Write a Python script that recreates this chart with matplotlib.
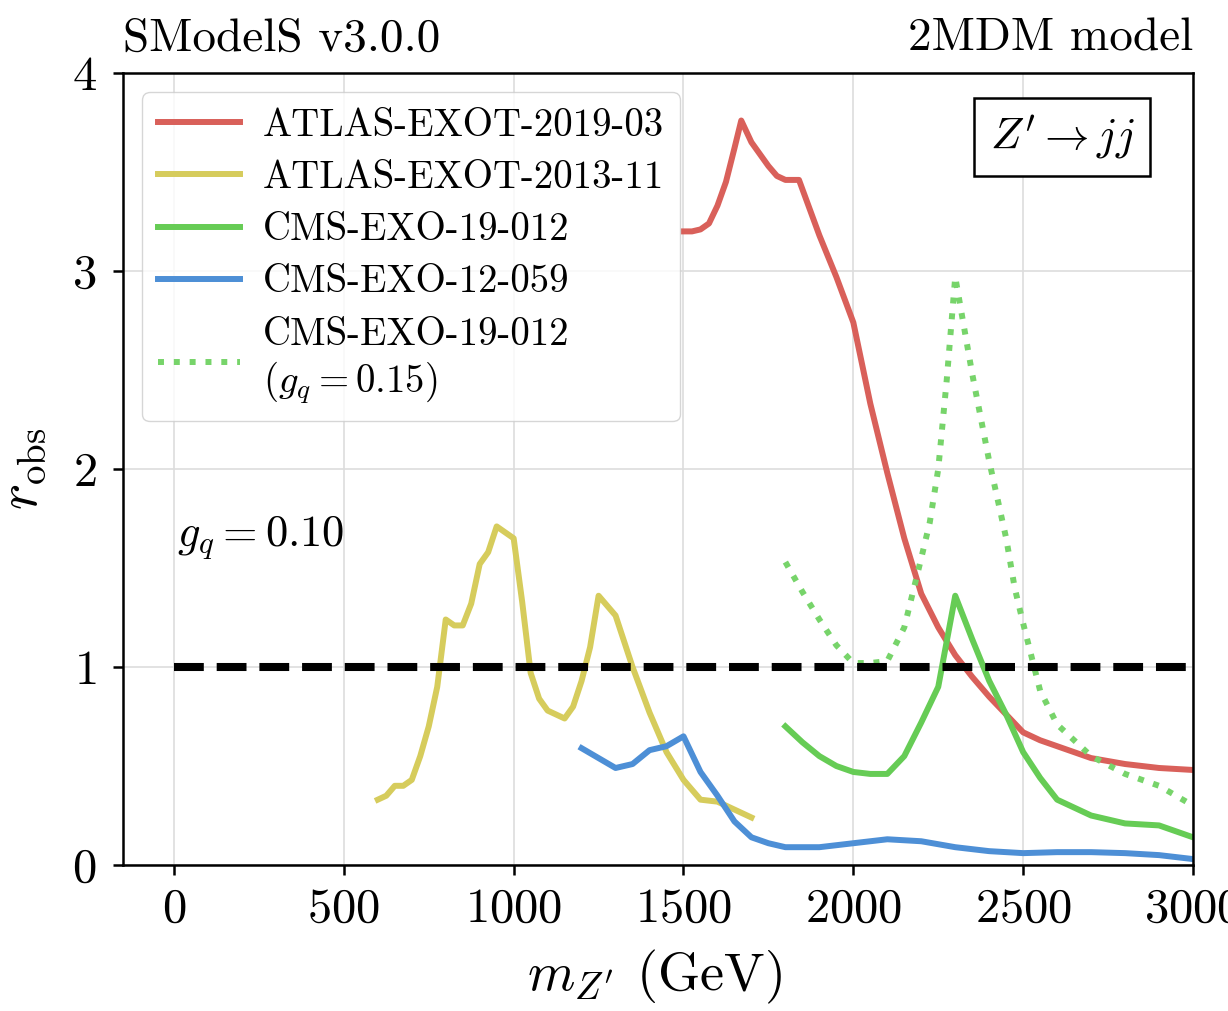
import matplotlib
matplotlib.use("Agg")
import matplotlib.pyplot as plt

plt.rcParams["font.family"] = "cmr10"
plt.rcParams["mathtext.fontset"] = "cm"
plt.rcParams["axes.formatter.use_mathtext"] = True

# r_obs versus Z' mass for each analysis
red_x = [1500, 1525, 1550, 1575, 1600, 1625, 1650, 1670, 1700, 1750, 1775, 1800, 1840,
         1900, 1950, 2000, 2050, 2100, 2150, 2200, 2250, 2300, 2350, 2400, 2450, 2500,
         2550, 2600, 2700, 2800, 2900, 3000]
red_y = [3.20, 3.20, 3.21, 3.24, 3.33, 3.45, 3.62, 3.76, 3.65, 3.53, 3.48, 3.46, 3.46,
         3.18, 2.97, 2.74, 2.33, 1.98, 1.65, 1.37, 1.20, 1.06, 0.95, 0.85, 0.76, 0.67,
         0.63, 0.60, 0.54, 0.51, 0.49, 0.48]

yel_x = [600, 625, 650, 675, 700, 725, 750, 775, 800, 825, 850, 875, 900, 925, 950, 975,
         1000, 1025, 1050, 1075, 1100, 1125, 1150, 1175, 1200, 1225, 1250, 1275, 1300,
         1350, 1400, 1450, 1500, 1550, 1600, 1650, 1700]
yel_y = [0.33, 0.35, 0.40, 0.40, 0.43, 0.55, 0.70, 0.90, 1.24, 1.21, 1.21, 1.32, 1.52,
         1.58, 1.71, 1.68, 1.65, 1.33, 0.97, 0.84, 0.78, 0.76, 0.74, 0.80, 0.93, 1.10,
         1.36, 1.31, 1.26, 1.00, 0.77, 0.57, 0.43, 0.33, 0.32, 0.28, 0.24]

grn_x = [1800, 1850, 1900, 1950, 2000, 2050, 2100, 2150, 2200, 2250, 2300, 2350, 2400,
         2450, 2500, 2550, 2600, 2700, 2800, 2900, 3000]
grn_y = [0.70, 0.62, 0.55, 0.50, 0.47, 0.46, 0.46, 0.55, 0.72, 0.90, 1.36, 1.14, 0.93,
         0.76, 0.57, 0.44, 0.33, 0.25, 0.21, 0.20, 0.14]

blu_x = [1200, 1250, 1300, 1350, 1400, 1450, 1500, 1550, 1600, 1650, 1700, 1750, 1800,
         1900, 2000, 2100, 2200, 2300, 2400, 2500, 2600, 2700, 2800, 2900, 3000]
blu_y = [0.59, 0.54, 0.49, 0.51, 0.58, 0.60, 0.65, 0.47, 0.35, 0.22, 0.14, 0.11, 0.09,
         0.09, 0.11, 0.13, 0.12, 0.09, 0.07, 0.06, 0.065, 0.065, 0.06, 0.05, 0.03]

# same CMS analysis for g_q = 0.15
dot_x = [1800, 1850, 1900, 1950, 2000, 2050, 2100, 2150, 2200, 2225, 2250, 2275, 2300,
         2350, 2400, 2450, 2475, 2500, 2550, 2600, 2700, 2800, 2900, 3000]
dot_y = [1.53, 1.38, 1.24, 1.11, 1.02, 1.02, 1.03, 1.20, 1.55, 1.73, 2.00, 2.45, 2.97,
         2.48, 2.04, 1.65, 1.40, 1.22, 0.88, 0.71, 0.55, 0.46, 0.40, 0.30]

labels = ["ATLAS-EXOT-2019-03", "ATLAS-EXOT-2013-11", "CMS-EXO-19-012",
          "CMS-EXO-12-059", "CMS-EXO-19-012\n($g_q = 0.15$)"]
colors = ["#d9605a", "#d6cc5c", "#66cc55", "#4d8fd6", "#77d46a"]

fig = plt.figure(figsize=(12.28, 10.11), dpi=100)
ax = fig.add_axes([0.1002, 0.1444, 0.8713, 0.7834])

lw = 4.3
ax.plot(red_x, red_y, color=colors[0], lw=lw, label=labels[0])
ax.plot(yel_x, yel_y, color=colors[1], lw=lw, label=labels[1])
ax.plot(grn_x, grn_y, color=colors[2], lw=lw, label=labels[2])
ax.plot(blu_x, blu_y, color=colors[3], lw=lw, label=labels[3])
ax.plot(dot_x, dot_y, color=colors[4], lw=lw, ls=":", label=labels[4])

ax.plot([0, 3000], [1, 1], color="black", lw=5.8, ls="--")

ax.set_xlim(-150, 3000)
ax.set_ylim(0, 4)
ax.set_xticks([0, 500, 1000, 1500, 2000, 2500, 3000])
ax.set_yticks([0, 1, 2, 3, 4])
ax.grid(True, color="#dddddd", lw=1.2)
ax.set_axisbelow(True)

for s in ax.spines.values():
    s.set_linewidth(1.8)
ax.tick_params(axis="both", labelsize=35, length=7, width=1.8, direction="out")
ax.tick_params(axis="x", pad=9)
ax.tick_params(axis="y", pad=12)

ax.set_xlabel(r"$m_{Z'}$ (GeV)", fontsize=39)
ax.set_ylabel(r"$r_{\mathrm{obs}}$", fontsize=40)
ax.xaxis.set_label_coords(0.497, -0.105)
ax.yaxis.set_label_coords(-0.07, 0.5)

ax.set_title("SModelS v3.0.0", loc="left", fontsize=34, pad=16)
ax.set_title("2MDM model", loc="right", fontsize=34, pad=16)

ax.text(0.05, 0.413, r"$g_q = 0.10$", transform=ax.transAxes, fontsize=32,
        ha="left", va="center")
ax.text(0.8776, 0.919, r"$Z' \rightarrow jj$", transform=ax.transAxes, fontsize=32,
        ha="center", va="center",
        bbox=dict(boxstyle="square,pad=0.35", fc="white", ec="black", lw=1.8))

leg = ax.legend(loc="upper left", fontsize=28, handlelength=2.1, handletextpad=0.6,
                labelspacing=0.42, borderaxespad=0.5, framealpha=0.8,
                edgecolor="#cccccc")

fig.savefig("out.png", dpi=100)
